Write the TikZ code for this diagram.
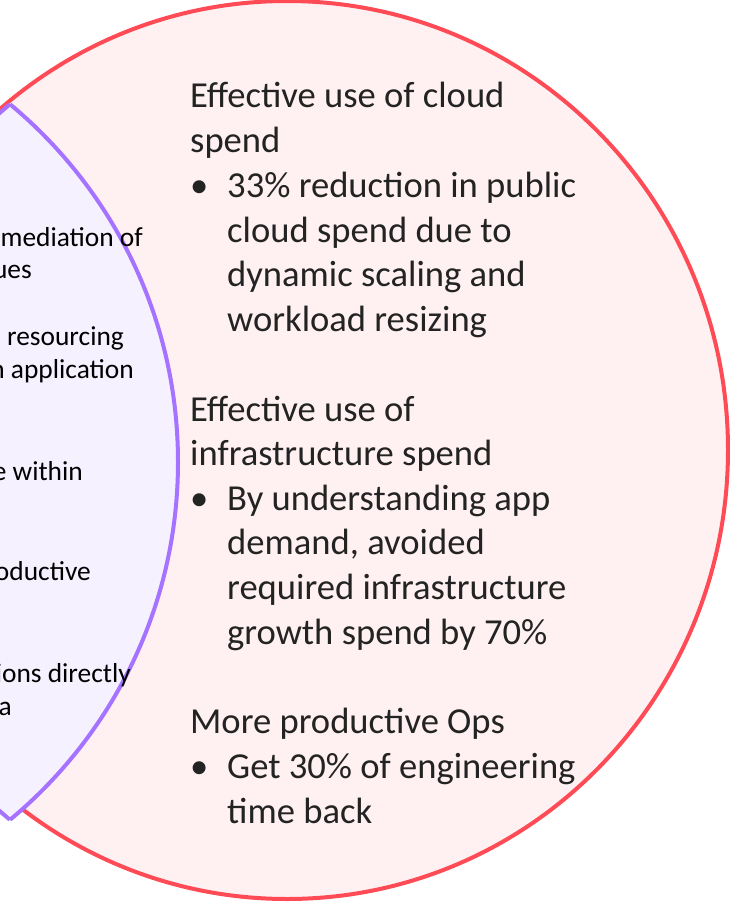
\documentclass[tikz,border=0pt]{standalone}
\usepackage{fontspec}
\setmainfont{Carlito}
\usetikzlibrary{positioning}
\definecolor{vennred}{RGB}{255, 75, 85}
\definecolor{vennpink}{RGB}{255, 240, 242}
\definecolor{vennpurple}{RGB}{165, 115, 255}
\definecolor{vennlilac}{RGB}{245, 241, 255}
\definecolor{gaintext}{RGB}{35, 35, 35}

\begin{document}
\begin{tikzpicture}[x=1pt, y=-1pt,
  gain/.style={font=\fontsize{36.6}{44}\selectfont, text=gaintext, anchor=base west, inner sep=0pt},
  pain/.style={font=\fontsize{27.4}{33}\selectfont, text=black, anchor=base east, inner sep=0pt}]

  \useasboundingbox (0,0) rectangle (730,912);

  % right circle
  \draw[fill=vennpink, draw=vennred, line width=4pt] (287,450) ellipse[x radius=441, y radius=449];

  % overlap: lens of two equal circles
  \begin{scope}
    \clip (307,462) circle[radius=465];
    \fill[vennlilac] (-287,462) circle[radius=465];
    \draw[vennpurple, line width=4pt] (-287,462) circle[radius=465];
  \end{scope}
  \begin{scope}
    \clip (-287,462) circle[radius=465];
    \draw[vennpurple, line width=4pt] (307,462) circle[radius=465];
  \end{scope}

  % left side, cut by the page
  \foreach \x/\y/\name [count=\i] in {143/246/emediation of, 32/278/ues, 124/345/t resourcing,
      134/378/n application, 83/480/e within, 91/580/oductive, 131/682/ions directly, 12/715/a}
    \node[pain] (pain\i) at (\x,\y) {\name};

  % right side
  \foreach \y/\name [count=\i] in {108/Effective use of cloud, 153/spend, 421/Effective use of,
      465/infrastructure spend, 733/More productive Ops}
    \node[gain] (head\i) at (190,\y) {\name};

  \foreach \y/\name [count=\i] in {197/33\% reduction in public, 242/cloud spend due to,
      286/dynamic scaling and, 331/workload resizing, 510/By understanding app,
      554/{demand, avoided}, 599/required infrastructure, 644/growth spend by 70\%,
      778/Get 30\% of engineering, 823/time back}
    \node[gain] (item\i) at (227,\y) {\name};

  \foreach \y [count=\i] in {197, 510, 778}
    \node[gain] (dot\i) at (190,\y) {\textbullet};

\end{tikzpicture}
\end{document}
